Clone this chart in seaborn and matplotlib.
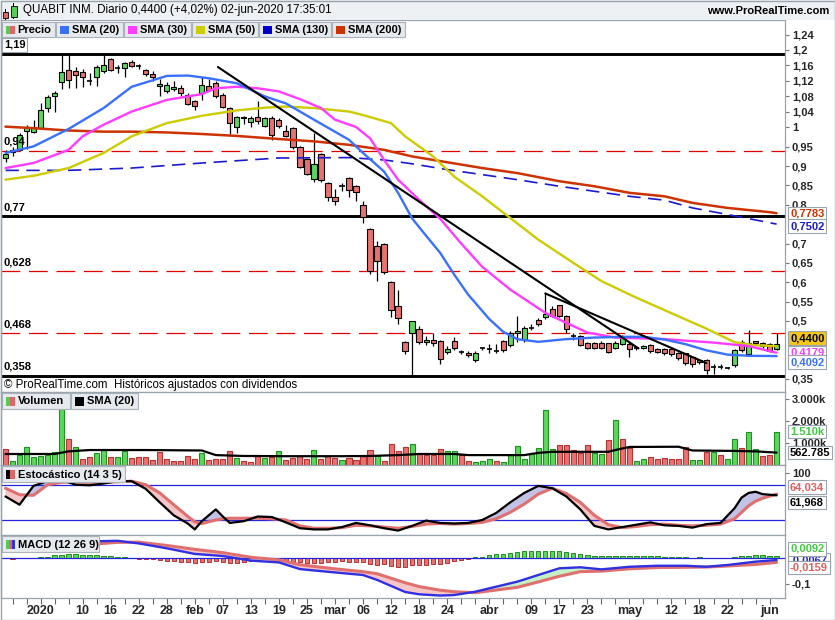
import numpy as np
import pandas as pd
import matplotlib
matplotlib.use("Agg")
import matplotlib.pyplot as plt
import matplotlib.transforms as mtransforms
from matplotlib.patches import Rectangle
import seaborn as sns

# ---------------- data ----------------
start_date, end_date = "2019-12-23", "2020-06-02"
holidays = ["2019-12-25", "2019-12-26", "2020-01-01", "2020-04-10", "2020-04-13", "2020-05-01"]

opens = [0.921,0.937,0.942,0.990,0.987,0.998,1.050,1.081,1.118,1.148,
         1.147,1.144,1.121,1.131,1.147,1.176,1.153,1.153,1.170,1.159,
         1.148,1.138,1.107,1.095,1.099,1.101,1.084,1.069,1.090,1.107,
         1.116,1.084,1.050,1.002,1.028,1.015,1.027,1.004,1.024,1.020,
         0.992,0.999,0.950,0.919,0.867,0.932,0.857,0.821,0.848,0.870,
         0.849,0.800,0.738,0.693,0.700,0.601,0.538,0.445,0.470,0.478,
         0.446,0.452,0.448,0.421,0.448,0.420,0.418,0.399,0.429,0.427,
         0.422,0.447,0.437,0.470,0.451,0.483,0.503,0.509,0.532,0.540,
         0.513,0.460,0.461,0.442,0.442,0.443,0.442,0.431,0.440,0.440,
         0.431,0.431,0.437,0.427,0.427,0.427,0.416,0.416,0.407,0.393,
         0.398,0.380,0.382,0.378,0.386,0.445,0.414,0.447,0.444,0.440,
         0.428]
closes = [0.931,0.941,0.980,1.000,1.000,1.044,1.079,1.089,1.143,1.123,
          1.135,1.130,1.121,1.156,1.161,1.148,1.153,1.166,1.159,1.159,
          1.137,1.130,1.112,1.110,1.105,1.088,1.061,1.056,1.110,1.097,
          1.081,1.054,1.011,1.027,1.024,1.025,1.017,1.024,0.981,1.004,
          0.979,0.950,0.899,0.880,0.906,0.863,0.821,0.809,0.848,0.839,
          0.834,0.769,0.629,0.656,0.626,0.527,0.508,0.422,0.500,0.446,
          0.451,0.442,0.401,0.427,0.431,0.420,0.411,0.416,0.429,0.427,
          0.422,0.425,0.470,0.474,0.483,0.483,0.493,0.517,0.513,0.513,
          0.480,0.460,0.437,0.431,0.431,0.431,0.421,0.443,0.461,0.427,
          0.431,0.435,0.422,0.420,0.416,0.414,0.405,0.391,0.388,0.398,
          0.373,0.380,0.382,0.378,0.424,0.425,0.444,0.442,0.435,0.423,
          0.440]
highs = [0.942,0.950,0.986,1.005,1.020,1.063,1.085,1.093,1.190,1.190,
         1.157,1.150,1.140,1.160,1.190,1.180,1.160,1.170,1.174,1.165,
         1.152,1.146,1.125,1.118,1.120,1.110,1.090,1.072,1.131,1.125,
         1.120,1.090,1.054,1.030,1.030,1.030,1.067,1.028,1.030,1.025,
         1.005,1.000,0.952,0.920,0.986,0.935,0.860,0.840,0.857,0.872,
         0.852,0.810,0.740,0.706,0.702,0.603,0.581,0.448,0.500,0.487,
         0.460,0.468,0.450,0.436,0.458,0.424,0.422,0.422,0.432,0.440,
         0.440,0.450,0.475,0.514,0.488,0.492,0.508,0.571,0.538,0.542,
         0.515,0.470,0.463,0.445,0.445,0.447,0.444,0.447,0.463,0.445,
         0.436,0.438,0.440,0.430,0.430,0.430,0.420,0.418,0.410,0.401,
         0.402,0.390,0.388,0.381,0.428,0.452,0.477,0.449,0.446,0.442,
         0.470]
lows = [0.911,0.925,0.938,0.945,0.985,0.995,1.040,1.040,1.100,1.102,
        1.102,1.105,1.110,1.107,1.140,1.145,1.140,1.131,1.155,1.152,
        1.134,1.120,1.080,1.088,1.095,1.080,1.058,1.045,1.070,1.094,
        1.075,1.050,0.983,0.985,1.010,1.000,1.010,1.000,0.968,0.998,
        0.975,0.945,0.895,0.877,0.860,0.860,0.810,0.800,0.835,0.820,
        0.810,0.754,0.622,0.602,0.620,0.510,0.491,0.415,0.358,0.440,
        0.437,0.435,0.390,0.415,0.425,0.415,0.406,0.395,0.425,0.418,
        0.418,0.420,0.432,0.445,0.445,0.477,0.488,0.505,0.510,0.510,
        0.470,0.452,0.434,0.427,0.427,0.427,0.418,0.428,0.437,0.406,
        0.426,0.428,0.418,0.417,0.412,0.410,0.400,0.385,0.382,0.390,
        0.362,0.362,0.375,0.375,0.382,0.420,0.410,0.438,0.430,0.420,
        0.425]

# volume in millions of shares, and bar colour (g = up, r = down)
volume = [0.71,0.18,0.45,0.80,0.35,0.41,0.45,0.59,2.53,1.17,
          0.80,0.26,0.35,0.53,0.71,0.38,0.35,0.65,0.30,0.38,
          0.38,0.23,0.61,0.26,0.18,0.18,0.42,0.26,0.53,0.23,
          0.26,0.26,0.64,0.33,0.18,0.14,0.45,0.33,0.38,0.64,
          0.23,0.33,0.42,0.26,0.68,0.26,0.42,0.30,0.23,0.33,
          0.23,0.42,0.67,0.42,0.18,0.95,0.64,0.80,0.94,0.53,
          0.45,0.45,0.71,0.65,0.62,0.44,0.17,0.12,0.17,0.26,
          0.17,0.12,0.44,0.86,0.26,0.53,0.76,2.50,0.71,0.89,
          0.89,0.67,0.56,0.89,0.53,0.50,1.12,2.05,1.17,0.79,
          0.18,0.26,0.35,0.26,0.30,0.26,0.26,0.80,0.23,0.23,
          0.58,0.58,0.44,0.26,1.17,0.76,1.48,0.71,0.39,0.44,
          1.51]
volume_dir = list("rggggggggrgrrggrggrrrrrrrrrrgrrrrgrrrgrgrrrrgrrrgrrrrgrrrrgr"
                  "rrrggrrgggrggggggggrrrrrggrgrrggrrrrrrggrgrggrggrrg")
vol_sma_idx = [0, 7, 9, 12, 20, 28, 30, 34, 40, 48, 52, 56, 59, 64, 66, 74, 76, 78, 86, 87, 89, 96, 98, 104, 107, 110]
vol_sma_val = [0.50, 0.50, 0.62, 0.68, 0.68, 0.66, 0.45, 0.41, 0.40, 0.40, 0.41, 0.45, 0.50, 0.50, 0.45, 0.45,
               0.55, 0.60, 0.60, 0.68, 0.82, 0.83, 0.66, 0.64, 0.62, 0.563]

# moving averages (read at sample points)
sma20_idx = [0,4,9,14,18,23,26,29,33,37,40,44,49,51,54,56,58,60,62,64,66,69,71,73,76,80,84,88,91,94,97,100,103,106,110]
sma20_val = [0.934,0.951,0.996,1.05,1.105,1.133,1.134,1.127,1.114,1.08,1.062,1.02,0.968,0.934,0.886,0.831,0.765,
             0.72,0.676,0.62,0.568,0.505,0.472,0.453,0.446,0.453,0.457,0.459,0.459,0.452,0.44,0.424,0.413,0.41,0.4092]
sma30_idx = [0,4,9,11,14,18,23,28,30,33,36,39,42,45,47,50,52,54,56,59,62,65,68,72,77,80,83,87,94,101,106,110]
sma30_val = [0.895,0.908,0.942,0.977,1.007,1.041,1.071,1.086,1.101,1.105,1.101,1.093,1.073,1.05,1.02,1.001,0.972,
             0.916,0.865,0.813,0.764,0.70,0.64,0.581,0.521,0.495,0.47,0.457,0.453,0.444,0.435,0.4179]
sma50_idx = [0,4,9,14,18,23,28,33,37,40,44,49,51,55,57,61,64,68,72,76,81,85,90,95,100,104,107,110]
sma50_val = [0.865,0.875,0.895,0.934,0.977,1.011,1.03,1.044,1.051,1.054,1.05,1.041,1.032,1.011,0.977,0.925,0.873,
             0.822,0.766,0.71,0.65,0.603,0.56,0.52,0.48,0.445,0.437,0.435]
sma130_idx = [0,9,18,28,39,49,54,58,63,68,73,79,84,89,94,98,103,110]
sma130_val = [0.889,0.889,0.895,0.908,0.921,0.922,0.916,0.906,0.891,0.878,0.865,0.848,0.835,0.822,0.812,0.792,0.775,0.7502]
sma200_idx = [0,4,9,14,18,23,28,33,39,44,49,54,58,63,68,73,79,84,89,94,98,103,109,110]
sma200_val = [1.002,0.998,0.992,0.989,0.989,0.987,0.983,0.978,0.97,0.964,0.955,0.942,0.925,0.91,0.895,0.882,0.861,
              0.848,0.831,0.822,0.805,0.792,0.781,0.7783]

# drawn support / resistance levels and trend lines
solid_levels = [1.19, 0.77, 0.358]
solid_labels = ["1,19", "0,77", "0,358"]
dashed_levels = [0.94, 0.628, 0.468]
dashed_labels = ["0,94", "0,628", "0,468"]
trend_a = ([30.3, 90.3], [1.156, 0.429])
trend_b = ([77.0, 100.0], [0.571, 0.391])

# stochastic (14 3 5)
stoch_idx = [0,2,4,6,8,10,12,14,16,18,20,22,24,26,27,28,30,31,32,34,36,38,40,42,44,46,48,50,52,54,56,58,60,
             62,64,66,68,70,72,74,76,78,80,82,84,86,88,90,92,94,96,98,100,102,104,105,106,107,108,110]
stoch_k = [60,46,78,86,88,80,79,82,86,86,73,50,28,14,4,18,38,26,15,18,26,25,16,6,4,4,8,15,11,6,2,10,19,
           15,14,15,20,32,50,66,78,74,60,38,10,4,8,12,16,11,10,7,13,15,40,58,66,68,64,61.968]
stoch_d = [74,63,62,80,84,85,84,84,85,86,80,66,46,26,17,14,20,22,23,23,23,22,20,10,6,6,7,11,10,8,6,9,13,
           14,13,14,16,22,33,47,64,74,65,50,28,12,7,9,12,13,11,10,11,13,22,33,44,52,57,64.034]

# MACD (12 26 9)
macd_idx = [0,4,8,12,16,19,23,27,31,35,39,42,47,51,53,57,59,62,64,67,69,73,76,79,82,85,89,93,97,100,103,107,110]
macd_line = [0.035,0.042,0.058,0.066,0.068,0.058,0.039,0.017,0.009,-0.009,-0.016,-0.042,-0.055,-0.065,-0.084,-0.131,
             -0.140,-0.145,-0.143,-0.130,-0.117,-0.091,-0.065,-0.039,-0.035,-0.043,-0.033,-0.029,-0.029,-0.033,-0.026,
             -0.013,-0.0067]
macd_signal = [0.035,0.042,0.046,0.054,0.062,0.063,0.050,0.035,0.022,0.004,-0.006,-0.025,-0.041,-0.052,-0.060,-0.095,
               -0.110,-0.124,-0.130,-0.134,-0.127,-0.113,-0.092,-0.070,-0.052,-0.050,-0.041,-0.036,-0.035,-0.034,-0.030,
               -0.024,-0.0159]
macd_hist = [0.000,-0.003,0.000,0.001,0.002,0.004,0.006,0.012,0.014,0.017,
             0.016,0.013,0.012,0.012,0.009,0.009,0.006,0.004,0.003,-0.002,
             -0.004,-0.004,-0.006,-0.010,-0.010,-0.013,-0.014,-0.019,-0.014,-0.014,
             -0.012,-0.014,-0.017,-0.017,-0.014,-0.012,-0.009,-0.006,-0.009,-0.010,
             -0.013,-0.016,-0.016,-0.017,-0.017,-0.017,-0.014,-0.014,-0.012,-0.013,
             -0.013,-0.014,-0.022,-0.025,-0.023,-0.029,-0.032,-0.035,-0.027,-0.026,
             -0.026,-0.023,-0.021,-0.017,-0.012,-0.006,-0.003,0.004,0.006,0.012,
             0.016,0.017,0.019,0.025,0.027,0.029,0.029,0.029,0.029,0.027,
             0.025,0.021,0.016,0.012,0.010,0.009,0.008,0.008,0.008,0.008,
             0.008,0.008,0.008,0.008,0.007,0.007,0.006,0.006,0.001,0.006,
             0.001,0.001,0.002,0.003,0.006,0.009,0.010,0.012,0.012,0.009,
             0.0092]

tick_dates = ["2020-01-02","2020-01-10","2020-01-16","2020-01-22","2020-01-28","2020-02-03","2020-02-07",
              "2020-02-13","2020-02-19","2020-02-25","2020-03-02","2020-03-06","2020-03-12","2020-03-18",
              "2020-03-24","2020-04-01","2020-04-09","2020-04-17","2020-04-23","2020-05-04","2020-05-12",
              "2020-05-18","2020-05-22","2020-06-01"]
tick_labels = ["2020","10","16","22","28","feb","07","13","19","25","mar","06","12","18","24",
               "abr","09","17","23","may","12","18","22","jun"]
price_ticks = [1.24, 1.2, 1.16, 1.12, 1.08, 1.04, 1.0, 0.95, 0.9, 0.85, 0.8, 0.7, 0.65, 0.6, 0.55, 0.5, 0.35]

# ---------------- setup ----------------
dates = pd.bdate_range(start_date, end_date)
dates = dates[~dates.isin(pd.to_datetime(holidays))]
n = len(dates)
assert n == len(opens) == len(closes) == len(highs) == len(lows) == len(volume) == len(volume_dir) == len(macd_hist), \
    (n, len(opens), len(closes), len(highs), len(lows), len(volume), len(volume_dir), len(macd_hist))
idx = np.arange(n)
O, C, Hh, L = map(np.array, (opens, closes, highs, lows))

sns.set_theme(style="white")
plt.rcParams['font.family'] = ['Liberation Sans', 'DejaVu Sans']

W, H = 835, 620
fig = plt.figure(figsize=(W / 100, H / 100), dpi=100)
fig.patch.set_facecolor('white')


def rect_frac(x0, y0, x1, y1):
    return [x0 / W, 1 - y1 / H, (x1 - x0) / W, (y1 - y0) / H]


X0, X1 = 1, 785
STEP, OFF = 7.01, 5.5
XLIM = ((X0 - OFF) / STEP, (X1 - OFF) / STEP)

ax_p = fig.add_axes(rect_frac(X0, 20, X1, 392))
ax_v = fig.add_axes(rect_frac(X0, 392, X1, 465))
ax_s = fig.add_axes(rect_frac(X0, 465, X1, 535))
ax_m = fig.add_axes(rect_frac(X0, 535, X1, 598))
GRAY = '#9aa4ae'
for ax in (ax_p, ax_v, ax_s, ax_m):
    ax.set_facecolor('white')
    ax.set_xlim(*XLIM)
    for sp in ax.spines.values():
        sp.set_color(GRAY)
        sp.set_linewidth(0.9)
    ax.yaxis.tick_right()
    ax.tick_params(axis='y', which='both', right=True, left=False, direction='out', length=3, width=0.8,
                   color='#707880', pad=2, labelsize=8)
    ax.tick_params(axis='x', which='both', bottom=False, labelbottom=False)
    ax.set_xlabel('')
    ax.set_ylabel('')

GREEN, RED = '#5cd65c', '#e87272'
GREEN_E, RED_E = '#1f8f1f', '#b83232'


def fmt(v):
    return ('%g' % v).replace('.', ',')


def value_label(ax, val, text, color, fc='white', dy=0, z=20):
    tr = mtransforms.blended_transform_factory(ax.transAxes, ax.transData)
    ax.annotate(text, xy=(1, val), xycoords=tr, xytext=(5, dy), textcoords='offset pixels',
                ha='left', va='center', fontsize=8, fontweight='bold', color=color,
                bbox=dict(boxstyle='square,pad=0.15', fc=fc, ec=GRAY, lw=0.8),
                annotation_clip=False, zorder=z)


# ---------------- price panel ----------------
ax_p.set_ylim(0.3164, 1.2775)
ax_p.set_yticks(price_ticks, labels=[fmt(v) for v in price_ticks], fontweight='bold', fontsize=8)

for lv in solid_levels:
    ax_p.axhline(lv, color='black', lw=2.1, zorder=2)
for lv in dashed_levels:
    ax_p.axhline(lv, color='#e00000', lw=0.9, dashes=(15, 7), zorder=2)

trL = mtransforms.blended_transform_factory(ax_p.transAxes, ax_p.transData)
for lv, lb in zip(solid_levels + dashed_levels, solid_labels + dashed_labels):
    kw = {}
    if lb == "1,19":
        kw['bbox'] = dict(boxstyle='square,pad=0.15', fc='white', ec=GRAY, lw=0.8)
    ax_p.annotate(lb, xy=(0, lv), xycoords=trL, xytext=(3, 4), textcoords='offset pixels',
                  ha='left', va='bottom', fontsize=8, fontweight='bold', color='black', zorder=7, **kw)

# candles
up = C >= O
body_lo = np.minimum(O, C)
body_h = np.abs(C - O)
doji = body_h < 0.0015
ax_p.vlines(idx, L, Hh, color='black', lw=0.9, zorder=3)
ax_p.bar(idx[~doji], body_h[~doji], bottom=body_lo[~doji], width=0.74,
         color=np.where(up, GREEN, RED)[~doji], edgecolor='black', linewidth=0.8, zorder=4)
ax_p.hlines(C[doji], idx[doji] - 0.37, idx[doji] + 0.37, color='black', lw=1.2, zorder=4)

# moving averages
sns.lineplot(x=sma200_idx, y=sma200_val, ax=ax_p, color='#cc3300', lw=1.8, zorder=5, legend=False)
sns.lineplot(x=sma130_idx, y=sma130_val, ax=ax_p, color='#1a1acc', lw=1.2, zorder=5, legend=False)
ax_p.get_lines()[-1].set_dashes((8, 4.5))
sns.lineplot(x=sma50_idx, y=sma50_val, ax=ax_p, color='#cccc00', lw=1.7, zorder=5, legend=False)
sns.lineplot(x=sma30_idx, y=sma30_val, ax=ax_p, color='#ff3cff', lw=1.7, zorder=5, legend=False)
sns.lineplot(x=sma20_idx, y=sma20_val, ax=ax_p, color='#3a70ff', lw=1.7, zorder=5, legend=False)
for tx, ty in (trend_a, trend_b):
    sns.lineplot(x=tx, y=ty, ax=ax_p, color='black', lw=1.5, zorder=6, legend=False)

ax_p.text(0.004, 0.019, "\u00a9 ProRealTime.com  Hist\u00f3ricos ajustados con dividendos", transform=ax_p.transAxes,
          fontsize=8.3, va='center', ha='left', color='black', zorder=7)

value_label(ax_p, sma200_val[-1], fmt(sma200_val[-1]).ljust(6, '0'), '#cc3300', dy=0, z=20)
value_label(ax_p, sma130_val[-1], fmt(sma130_val[-1]), '#1a1acc', dy=-2, z=21)
value_label(ax_p, sma30_val[-1], fmt(sma30_val[-1]), '#ff3cff', dy=0, z=22)
value_label(ax_p, closes[-1], "0,4400", 'black', fc='#f5c518', dy=6, z=23)
value_label(ax_p, sma20_val[-1], fmt(sma20_val[-1]), '#3a70ff', dy=-6, z=24)

# ---------------- volume panel ----------------
ax_v.set_ylim(0, 3.318)
ax_v.set_yticks([1, 2, 3], labels=["1.000k", "2.000k", "3.000k"], fontweight='bold', fontsize=8)
vcol = np.where(np.array(volume_dir) == 'g', GREEN, RED)
vedge = np.where(np.array(volume_dir) == 'g', GREEN_E, RED_E)
ax_v.bar(idx, volume, width=0.72, color=vcol, edgecolor=vedge, linewidth=0.8, zorder=3)
sns.lineplot(x=vol_sma_idx, y=vol_sma_val, ax=ax_v, color='black', lw=1.6, zorder=4, legend=False)
value_label(ax_v, volume[-1], "1.510k", '#44c844', dy=0, z=20)
value_label(ax_v, vol_sma_val[-1], "562.785", 'black', dy=0, z=21)

# ---------------- stochastic panel ----------------
ax_s.set_ylim(-5.5, 113.5)
ax_s.set_yticks([100], labels=["100"], fontweight='bold', fontsize=8)
sx = np.array(stoch_idx, dtype=float)
sk = np.array(stoch_k, dtype=float)
sd = np.array(stoch_d, dtype=float)
ax_s.fill_between(sx, sk, sd, where=sk >= sd, interpolate=True, color='#c2c2e4', lw=0, zorder=2)
ax_s.fill_between(sx, sk, sd, where=sk < sd, interpolate=True, color='#f6c6c6', lw=0, zorder=2)
ax_s.axhline(80, color='#2424e0', lw=0.9, zorder=3)
ax_s.axhline(20, color='#2424e0', lw=0.9, zorder=3)
sns.lineplot(x=sx, y=sd, ax=ax_s, color='#e07070', lw=2.2, zorder=4, legend=False)
sns.lineplot(x=sx, y=sk, ax=ax_s, color='black', lw=1.6, zorder=5, legend=False)
value_label(ax_s, stoch_d[-1], "64,034", '#e06060', dy=7, z=20)
value_label(ax_s, stoch_k[-1], "61,968", 'black', dy=-7, z=21)

# ---------------- MACD panel ----------------
ax_m.set_ylim(-0.1545, 0.0907)
ax_m.set_yticks([-0.1], labels=["-0,1"], fontweight='bold', fontsize=8)
mh = np.array(macd_hist)
ax_m.bar(idx, mh, width=0.62, color=np.where(mh >= 0, GREEN, RED), edgecolor=np.where(mh >= 0, GREEN_E, RED_E),
         linewidth=0.7, zorder=2)
mx = np.array(macd_idx, dtype=float)
ml = np.array(macd_line)
ms = np.array(macd_signal)
ax_m.fill_between(mx, ml, ms, where=ml >= ms, interpolate=True, color='#c6f0c6', lw=0, zorder=3)
ax_m.fill_between(mx, ml, ms, where=ml < ms, interpolate=True, color='#f6c6c6', lw=0, zorder=3)
ax_m.axhline(0, color='#2424e0', lw=0.9, zorder=3)
sns.lineplot(x=mx, y=ms, ax=ax_m, color='#e07070', lw=2.2, zorder=4, legend=False)
sns.lineplot(x=mx, y=ml, ax=ax_m, color='#3030e0', lw=1.7, zorder=5, legend=False)
value_label(ax_m, macd_line[-1], "-0,0067", '#2020dd', dy=0, z=20)
value_label(ax_m, macd_hist[-1], "0,0092", '#44c844', dy=7, z=21)
value_label(ax_m, macd_signal[-1], "-0,0159", '#e06060', dy=-5, z=22)

# x axis
tick_pos = dates.get_indexer(pd.to_datetime(tick_dates))
ax_m.set_xticks(tick_pos, labels=tick_labels, fontweight='bold', fontsize=9)
ax_m.set_xticks(np.arange(1, n, 2), minor=True)
ax_m.tick_params(axis='x', which='both', bottom=True, labelbottom=True, direction='out', length=4,
                 width=0.8, color='#606870', pad=1)
ax_m.tick_params(axis='x', which='minor', labelbottom=False)
ax_m.set_xlim(*XLIM)


# ---------------- chrome: header, legends ----------------
def px_rect(x0, y0, x1, y1, **kw):
    fig.add_artist(Rectangle((x0 / W, 1 - y1 / H), (x1 - x0) / W, (y1 - y0) / H, transform=fig.transFigure, **kw))


def px_text(x, y, s, **kw):
    fig.text(x / W, 1 - y / H, s, **kw)


px_rect(0, 0, W, 20, fc='#eef1f4', ec='none', zorder=30)
px_rect(0, 19.5, W, 20.2, fc='#b8c0c8', ec='none', zorder=30)
# header icon (two small candles)
px_rect(5.3, 9.3, 6.3, 20.0, fc='black', ec='none', zorder=31)
px_rect(3.3, 11.7, 8.3, 18.3, fc='#e06666', ec='black', lw=0.6, zorder=32)
px_rect(13.4, 3.3, 14.4, 18.7, fc='black', ec='none', zorder=31)
px_rect(11.0, 6.0, 16.7, 16.7, fc='#55cc55', ec='black', lw=0.6, zorder=32)
px_text(23, 10.5, "QUABIT INM. Diario 0,4400 (+4,02%) 02-jun-2020 17:35:01", fontsize=8.4, va='center',
        ha='left', color='black', zorder=33)
px_text(829, 10.5, "www.ProRealTime.com", fontsize=8, fontweight='bold', va='center', ha='right',
        color='black', zorder=33)


def legend_row(y0, y1, items):
    for x0, x1, label, swatch in items:
        px_rect(x0, y0, x1, y1, fc='#e6eaee', ec='#aab2ba', lw=0.8, zorder=30)
        sx0, sx1 = x0 + 4, x0 + 13
        w = (sx1 - sx0) / len(swatch)
        for k, c in enumerate(swatch):
            px_rect(sx0 + k * w, y0 + 3.5, sx0 + (k + 1) * w, y1 - 3, fc=c, ec='none', zorder=31)
        px_text(x0 + 16, (y0 + y1) / 2 + 0.5, label, fontsize=8, fontweight='bold', va='center', ha='left',
                color='black', zorder=32)


legend_row(22, 37, [(1.5, 55, "Precio", ['#55cc55', '#e06666']),
                    (56, 123, "SMA (20)", ['#3a70ff']),
                    (124, 191, "SMA (30)", ['#ff3cff']),
                    (192, 258, "SMA (50)", ['#cccc00']),
                    (259, 331, "SMA (130)", ['#0000cc']),
                    (332, 405, "SMA (200)", ['#cc3300'])])
legend_row(393, 409, [(1.5, 70, "Volumen", ['#55cc55', '#e06666']),
                      (71, 138, "SMA (20)", ['black'])])
legend_row(466, 482, [(1.5, 125, "Estoc\u00e1stico (14 3 5)", ['black', '#e06666'])])
legend_row(536, 552, [(1.5, 99, "MACD (12 26 9)", ['#55cc55', '#e06666', '#3333dd'])])

px_rect(0.5, 0.5, W - 0.5, H - 0.5, fill=False, ec=GRAY, lw=1, zorder=40)

fig.savefig("out.png", dpi=100, facecolor='white')
